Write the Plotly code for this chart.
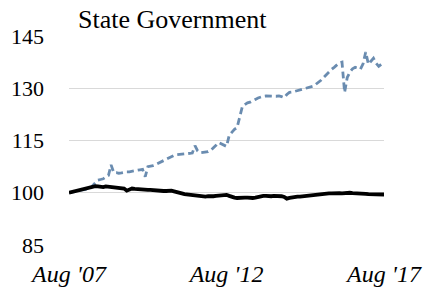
import pandas as pd
import plotly.graph_objects as go

title_text = "State Government"
dates = pd.date_range("2007-08-01", "2017-08-01", freq="MS")

state_dashed = [
    100.0, 100.2, 100.3, 100.5, 100.6, 100.8, 100.9, 101.0, 101.2,
    102.0, 102.8, 103.6, 103.8, 104.0, 104.5, 105.0,
    108.0,
    105.8, 105.8, 105.6, 105.7, 105.9, 106.0, 106.0, 106.2, 106.3, 106.4, 106.6, 106.7, 104.6,
    107.5, 107.6, 107.8, 108.1, 108.5, 108.9, 109.2, 109.5, 110.0, 110.5,
    110.7, 110.9, 111.0, 111.1, 111.2, 111.3, 111.5, 111.4, 113.5, 112.0,
    111.5, 111.6, 111.8, 111.8, 112.2, 112.8, 113.6, 114.4, 114.0, 113.6,
    113.3, 116.5, 117.5, 118.2, 118.7, 121.5, 124.8, 125.3, 125.8, 126.0,
    126.3, 126.8, 127.2, 127.5, 127.7, 127.8, 127.7, 127.8, 127.7, 127.7,
    127.8, 127.6, 127.3, 128.2, 128.8, 128.9, 129.1, 129.2, 129.4, 129.6,
    129.9, 130.2, 130.4, 130.6, 131.1, 131.6, 132.3, 133.1, 133.9, 134.8,
    135.4, 136.0, 136.7, 137.3, 137.5, 128.8, 133.1, 134.6, 135.6, 136.0,
    135.8, 135.5, 137.0, 140.4, 136.9, 137.8, 138.6, 137.2, 136.3, 136.9,
    137.5,
]

state_solid = [
    100.0, 100.2, 100.4, 100.5, 100.6, 100.8, 101.0, 101.2, 101.4, 101.7,
    101.9, 101.8, 101.7, 101.6, 101.8, 101.7, 101.5, 101.6, 101.4, 101.3,
    101.3, 101.2, 100.6, 101.0, 101.2, 101.1, 101.0, 101.0, 100.9, 100.9,
    100.8, 100.8, 100.7, 100.7, 100.6, 100.6, 100.5, 100.5, 100.6, 100.6,
    100.4, 100.1, 99.9, 99.8, 99.6, 99.5, 99.3, 99.2, 99.1, 99.0,
    98.9, 98.9, 98.9, 99.0, 98.9, 99.0, 99.1, 99.2, 99.3, 99.4,
    99.4, 99.1, 98.8, 98.6, 98.5, 98.6, 98.7, 98.6, 98.6, 98.5,
    98.5, 98.6, 98.8, 99.0, 99.1, 99.1, 99.0, 99.0, 99.1, 99.1,
    99.0, 99.0, 98.8, 98.3, 98.5, 98.7, 98.8, 98.9, 98.9, 99.0,
    99.1, 99.2, 99.3, 99.4, 99.5, 99.6, 99.7, 99.7, 99.8, 99.8,
    99.8, 99.9, 99.9, 99.9, 99.8, 99.9, 99.9, 100.0, 99.9, 99.9,
    99.8, 99.8, 99.7, 99.7, 99.6, 99.6, 99.6, 99.5, 99.5, 99.5,
    99.5,
]

y_ticks = [85, 100, 115, 130, 145]
x_tickvals = ["2007-08-01", "2012-08-01", "2017-08-01"]
x_ticktext = ["Aug '07", "Aug '12", "Aug '17"]

FONT = "Liberation Serif"

fig = go.Figure()
fig.add_trace(go.Scatter(
    x=dates, y=state_dashed, mode="lines",
    line=dict(color="#6A8CB0", width=2.8, dash="7px,4px"),
    showlegend=False, hoverinfo="skip",
))
fig.add_trace(go.Scatter(
    x=dates, y=state_solid, mode="lines",
    line=dict(color="#000000", width=3.8),
    showlegend=False, hoverinfo="skip",
))

fig.update_layout(
    width=426, height=288,
    margin=dict(l=69, r=42, t=36, b=43, autoexpand=False),
    paper_bgcolor="white", plot_bgcolor="white",
    font=dict(family=FONT, color="#000000", size=22),
    annotations=[dict(
        text=title_text, xref="paper", yref="paper", x=0.022, y=1,
        xanchor="left", yanchor="bottom", yshift=0, showarrow=False,
        font=dict(family=FONT, size=26, color="#000000"),
    )],
)
fig.update_xaxes(
    range=[dates[0], dates[-1]],
    tickmode="array", tickvals=x_tickvals, ticktext=x_ticktext,
    tickfont=dict(family=FONT, size=24, style="italic"),
    showgrid=False, zeroline=False, showline=False, ticks="",
    ticklabelstandoff=12, automargin=False,
)
fig.update_yaxes(
    range=[85, 145], tickmode="array", tickvals=y_ticks,
    showgrid=True, gridcolor="#D9D9D9", gridwidth=1.2,
    zeroline=False, showline=False, ticks="",
    ticklabelstandoff=24, automargin=False,
    tickfont=dict(family=FONT, size=22),
)

fig.write_html(
    "out.html",
    config={"displayModeBar": False, "staticPlot": True},
    post_script="document.body.style.margin='0';document.body.style.padding='0';",
)
